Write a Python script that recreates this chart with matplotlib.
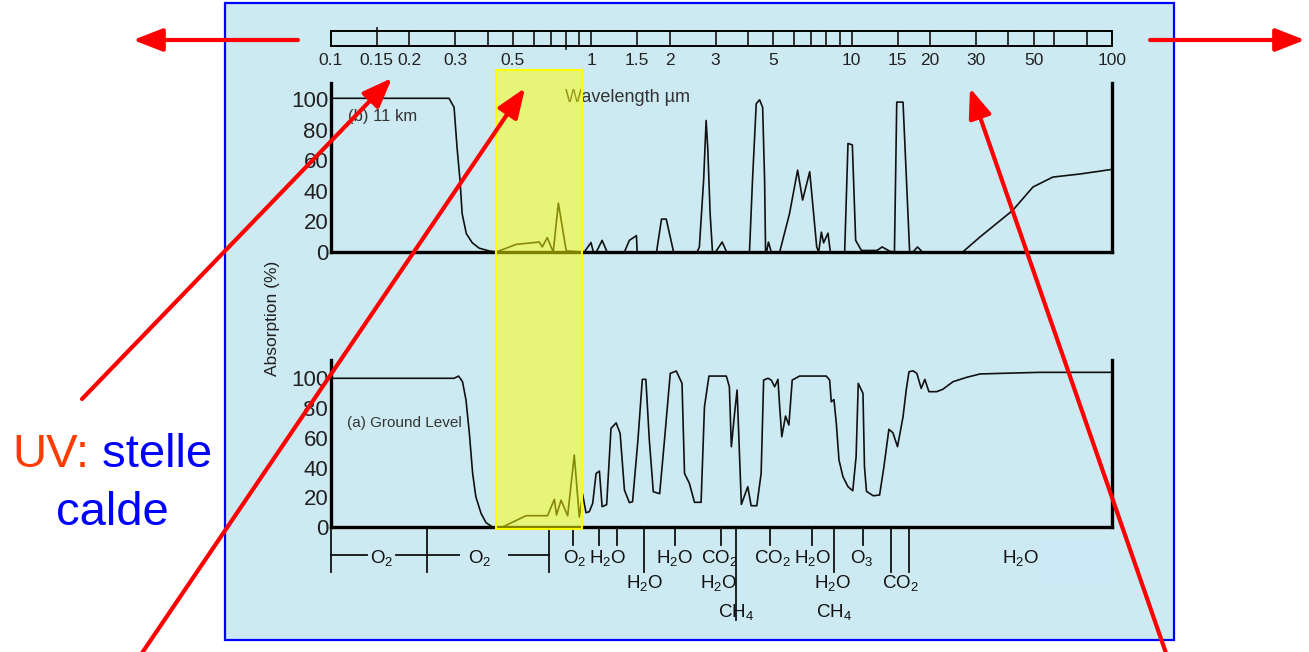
import matplotlib
matplotlib.use("Agg")
import matplotlib.pyplot as plt
from matplotlib.patches import Rectangle
from matplotlib.ticker import NullLocator
from matplotlib.transforms import blended_transform_factory

plt.rcParams['font.family'] = ['Liberation Sans', 'DejaVu Sans']
plt.rcParams['mathtext.fontset'] = 'custom'
plt.rcParams['mathtext.rm'] = 'Liberation Sans'
plt.rcParams['mathtext.it'] = 'Liberation Sans'

# wavelength scale bar (micrometres)
scale_lines = [0.15, 0.2, 0.3, 0.4, 0.5, 0.6, 0.7, 0.8, 0.9, 1, 1.5, 2, 3, 4, 5, 6, 7, 8, 9,
               10, 15, 20, 30, 40, 50, 60, 80]
scale_ticks = [0.1, 0.15, 0.2, 0.3, 0.5, 1, 1.5, 2, 3, 5, 10, 15, 20, 30, 50, 100]
scale_text = ['0.1', '0.15', '0.2', '0.3', '0.5', '1', '1.5', '2', '3', '5', '10', '15', '20',
              '30', '50', '100']

# (b) 11 km
wl_11km = [0.1, 0.284, 0.297, 0.305, 0.313, 0.319, 0.331, 0.349, 0.371, 0.405, 0.431,
           0.515, 0.631, 0.648, 0.677, 0.714, 0.747, 0.801, 0.924, 0.94, 0.997, 1.018, 1.045,
           1.10, 1.15, 1.34, 1.40, 1.49, 1.50, 1.78, 1.86, 1.94, 2.07, 2.55, 2.60, 2.70, 2.76,
           2.80, 2.86, 2.92, 3.0, 3.18, 3.31, 4.05, 4.16, 4.30, 4.43, 4.55, 4.63, 4.67, 4.71,
           4.79, 4.91, 5.29, 5.77, 6.20, 6.48, 6.90, 7.34, 7.47, 7.65, 7.80, 8.11, 8.28, 9.40,
           9.68, 10.06, 10.36, 10.9, 12.5, 13.1, 14.0, 14.6, 14.9, 15.75, 16.7, 17.2, 17.9,
           18.7, 26.7, 31.1, 41.6, 49.7, 59.3, 75.3, 100]
abs_11km = [100.5, 100.5, 94.6, 68, 47, 25, 12, 6, 2.5, 0.7, 0,
            5, 6.5, 3.3, 9.4, 0, 32, 0.7, 0, 0, 6.2, 0, 0,
            7.6, 0, 0, 7.6, 10.7, 0, 0, 21.5, 21.5, 0, 0, 3.3, 47, 86,
            68, 25, 0, 0, 6.5, 0, 0, 47, 97, 99.5, 94.6, 47, 0, 0,
            6.5, 0, 0, 25, 53.5, 34, 52.5, 3.3, 0, 13, 6, 12.3, 0, 0,
            71, 70, 7.6, 1, 1, 3.3, 0.5, 0, 98, 98, 0, 0, 3.3,
            0, 0, 9.8, 27.3, 42.5, 49, 51, 54]

# (a) ground level
wl_ground = [0.1, 0.297, 0.309, 0.320, 0.330, 0.340, 0.350, 0.360, 0.377, 0.394, 0.417,
             0.456, 0.561, 0.679, 0.721, 0.735, 0.765, 0.811, 0.860, 0.899, 0.926, 0.954,
             0.982, 1.012, 1.043, 1.074, 1.10, 1.145, 1.19, 1.245, 1.29, 1.34, 1.40, 1.44,
             1.51, 1.57, 1.62, 1.67, 1.73, 1.83, 1.91, 2.01, 2.12, 2.23, 2.28, 2.38, 2.49,
             2.64, 2.72, 2.83, 3.30, 3.39, 3.45, 3.55, 3.63, 3.71, 3.77, 3.99, 4.11, 4.32,
             4.49, 4.59, 4.77, 4.91, 5.06, 5.21, 5.29, 5.39, 5.57, 5.74, 5.91, 6.31, 7.99,
             8.23, 8.35, 8.55, 8.73, 8.94, 9.26, 9.68, 10.1, 10.4, 10.6, 11.05, 11.2, 11.4,
             12.1, 12.8, 13.3, 13.9, 14.4, 15.0, 15.75, 16.2, 16.6, 17.2, 17.8, 18.5, 19.1,
             19.8, 21.2, 22.4, 24.5, 27.6, 31.1, 37.1, 52.9, 100]
abs_ground = [100, 100, 101.5, 97.7, 85.4, 63, 36, 20.4, 9.2, 2.9, 0,
              0, 7.6, 7.6, 18.6, 8.1, 18, 7.6, 48.4, 6.7, 22, 9.6,
              10.3, 15.9, 36, 37.6, 13.7, 15, 66.3, 70, 63, 24.9, 16.4, 17,
              58.5, 99.3, 99.3, 58.5, 23.7, 22.4, 58.5, 103.3, 104.9, 96.6, 36, 29.4, 16.6,
              16.6, 80.9, 101.5, 101.5, 94.3, 54, 76.4, 92.1, 47.3, 15.2, 27.1, 14.3, 14.3,
              36, 98.8, 100, 98.8, 94.3, 99.3, 80.9, 60.7, 74.6, 68.6, 98.8, 101.5, 101.5,
              98.8, 84.2, 85.7, 69.7, 45, 33.8, 27.1, 24.4, 47.3, 96.6, 89.9, 40.5, 24,
              21, 21.5, 40.5, 65.7, 63.4, 54, 74.1, 92.1, 104.4, 105, 103.3, 93.2, 99.3,
              91, 91, 92.6, 97.7, 100.6, 102.9, 103.3, 104, 104]

# absorbing gases under the ground-level panel
band_labels = [('O$_2$', 0.156, 1), ('O$_2$', 0.371, 1), ('O$_2$', 0.86, 1),
               ('H$_2$O', 1.15, 1), ('H$_2$O', 1.6, 2), ('H$_2$O', 2.09, 1),
               ('CO$_2$', 3.11, 1), ('H$_2$O', 3.07, 2), ('CH$_4$', 3.6, 3),
               ('CO$_2$', 4.95, 1), ('H$_2$O', 7.08, 1), ('H$_2$O', 8.45, 2),
               ('CH$_4$', 8.53, 3), ('O$_3$', 10.9, 1), ('CO$_2$', 15.4, 2),
               ('H$_2$O', 44.7, 1)]
band_marks = [(0.1, 'long'), (0.234, 'long'), (0.69, 'long'), (0.853, 'short'),
              (1.074, 'short'), (1.25, 'short'), (1.6, 'long'), (2.09, 'short'),
              (3.14, 'short'), (3.61, 'xlong'), (4.85, 'short'), (7.02, 'short'),
              (8.53, 'long'), (11.1, 'short'), (14.1, 'long'), (16.6, 'long')]
o2_ranges = [(0.1, 0.138), (0.178, 0.31), (0.483, 0.69)]
visible_band = (0.431, 0.924)

W, H = 1309, 652
fig = plt.figure(figsize=(W / 100, H / 100), dpi=100)
fig.patch.set_facecolor('white')


def px_axes(x0, y0, x1, y1, z):
    ax = fig.add_axes([x0 / W, 1 - y1 / H, (x1 - x0) / W, (y1 - y0) / H], zorder=z)
    ax.patch.set_alpha(0)
    return ax


bg = px_axes(0, 0, W, H, 0)
bg.set_xlim(0, W)
bg.set_ylim(H, 0)
bg.axis('off')
bg.add_patch(Rectangle((225, 3), 949, 637, fc='#cdeaf2', ec='#0000ff', lw=1.6))
bg.add_patch(Rectangle((1040, 540), 73, 43, fc='#cbe8f8', ec='none'))
bg.text(565, 97, 'Wavelength µm', fontsize=13, color='#333333', ha='left', va='center')
bg.text(272, 318, 'Absorption (%)', fontsize=12.5, rotation=90, color='#222222',
        ha='center', va='center')
bg.text(348, 117, '(b) 11 km', fontsize=12, color='#333333', va='center')
bg.text(347, 423, '(a) Ground Level', fontsize=11, color='#333333', va='center')

# wavelength scale bar
sc = px_axes(331, 31, 1112, 46, 1)
sc.set_xscale('log')
sc.set_xlim(0.1, 100)
sc.set_ylim(0, 1)
sc.set_yticks([])
for w in scale_lines:
    lo, hi = 0, 1
    if w == 0.15:
        hi = 1.2
    if w == 0.8:
        lo = -0.2
    sc.axvline(w, lo, hi, color='#111111', lw=1.2, clip_on=False)
sc.set_xticks(scale_ticks)
sc.set_xticklabels(scale_text)
sc.xaxis.set_minor_locator(NullLocator())
sc.tick_params(axis='x', length=0, pad=5, labelsize=12.5, labelcolor='#222222')
for s in sc.spines.values():
    s.set_linewidth(1.4)


def spectrum_axes(y0, y1, top):
    ax = px_axes(331, y0, 1112, y1, 2)
    ax.set_xscale('log')
    ax.set_xlim(0.1, 100)
    ax.set_ylim(0, top)
    ax.xaxis.set_major_locator(NullLocator())
    ax.xaxis.set_minor_locator(NullLocator())
    ax.spines['top'].set_visible(False)
    for s in ('left', 'right', 'bottom'):
        ax.spines[s].set_linewidth(2.4)
    ax.set_yticks(range(0, 101, 20))
    ax.set_yticks([20, 40, 60, 80], minor=True)
    ax.tick_params(axis='y', which='major', length=0, pad=2, labelsize=16,
                   labelcolor='#222222')
    ax.tick_params(axis='y', which='minor', direction='in', length=7.5, width=2.2,
                   left=True, right=True)
    return ax


ax_b = spectrum_axes(83, 252, 110.5)
ax_b.plot(wl_11km, abs_11km, color='#111111', lw=1.2)

ax_a = spectrum_axes(360, 527, 112.3)
ax_a.plot(wl_ground, abs_ground, color='#111111', lw=1.2)

# absorber markers
bands = px_axes(331, 528, 1112, 640, 2)
bands.set_xscale('log')
bands.set_xlim(0.1, 100)
bands.set_ylim(112, 0)
bands.axis('off')
mark_len = {'short': 17, 'long': 44, 'xlong': 92}
for w, kind in band_marks:
    bands.plot([w, w], [0, mark_len[kind]], color='#111111', lw=1.3, clip_on=False)
for a, b in o2_ranges:
    bands.plot([a, b], [27, 27], color='#111111', lw=1.3, clip_on=False)
row_base = {1: 35, 2: 60, 3: 89}
for label, w, row in band_labels:
    bands.text(w, row_base[row], label, ha='center', va='baseline', fontsize=13.5,
               color='#111111')

# overlay: visible window, arrows, side note
ov = px_axes(0, 0, W, H, 10)
ov.set_xlim(0, W)
ov.set_ylim(H, 0)
ov.axis('off')
tr = blended_transform_factory(ax_b.transData, ov.transData)
ov.add_patch(Rectangle((visible_band[0], 70), visible_band[1] - visible_band[0], 459,
                       transform=tr, fc=(1, 1, 0, 0.5), ec='#ffff00', lw=1.5))

arrows = [((298, 40), (133, 40)), ((1150, 40), (1305, 40)), ((82, 399), (392, 78)),
          ((140, 656), (525, 88)), ((1167, 656), (970, 88))]
for start, end in arrows:
    ov.annotate('', xy=end, xytext=start, annotation_clip=False,
                arrowprops=dict(arrowstyle='-|>,head_length=0.9,head_width=0.35',
                                color='#ff0000', lw=3, mutation_scale=20,
                                shrinkA=0, shrinkB=0))

t1 = ov.text(12, 467, 'UV:', fontsize=34, color='#ff3c00', va='baseline')
ov.annotate(' stelle', xy=(1, 0), xycoords=t1, fontsize=34, color='#0000ff',
            va='bottom', ha='left')
ov.text(112, 525, 'calde', fontsize=34, color='#0000ff', ha='center', va='baseline')

fig.savefig('out.png', dpi=100)
